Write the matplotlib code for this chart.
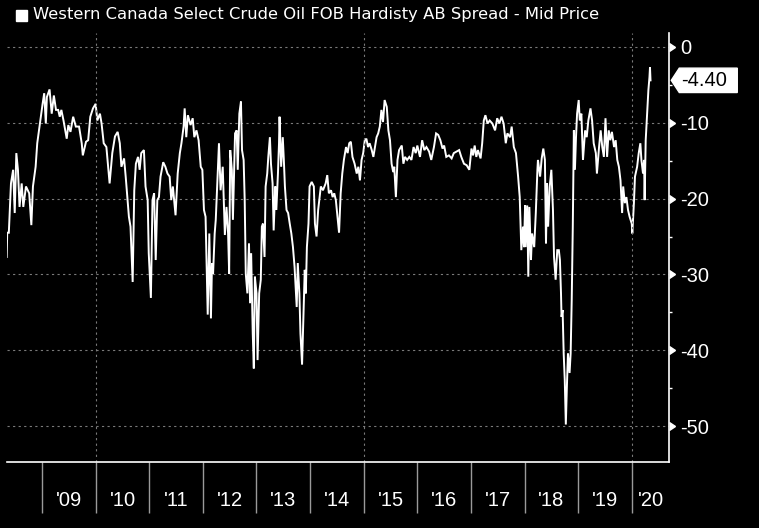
import numpy as np
import matplotlib
matplotlib.use("Agg")
import matplotlib.pyplot as plt
from matplotlib import transforms
from matplotlib.patches import Polygon, Rectangle

title = "Western Canada Select Crude Oil FOB Hardisty AB Spread - Mid Price"

# time in decimal years, spread in USD/bbl
t = [2008.34, 2008.35, 2008.38, 2008.42, 2008.46, 2008.49, 2008.52, 2008.55, 2008.58, 2008.62,
     2008.65, 2008.70, 2008.76, 2008.80, 2008.83, 2008.88, 2008.91, 2008.96, 2009.01, 2009.04,
     2009.07, 2009.09, 2009.14, 2009.18, 2009.22, 2009.26, 2009.30, 2009.33, 2009.36, 2009.40,
     2009.46, 2009.49, 2009.53, 2009.58, 2009.63, 2009.69, 2009.74, 2009.76, 2009.82, 2009.86,
     2009.90, 2009.95, 2010.00, 2010.03, 2010.08, 2010.11, 2010.15, 2010.20, 2010.26, 2010.31,
     2010.36, 2010.41, 2010.45, 2010.48, 2010.53, 2010.56, 2010.59, 2010.62, 2010.65, 2010.69,
     2010.72, 2010.75, 2010.79, 2010.82, 2010.85, 2010.90, 2010.93, 2010.97, 2010.99, 2011.03,
     2011.06, 2011.09, 2011.12, 2011.15, 2011.18, 2011.21, 2011.26, 2011.30, 2011.34, 2011.38,
     2011.41, 2011.44, 2011.49, 2011.53, 2011.57, 2011.60, 2011.64, 2011.66, 2011.69, 2011.72,
     2011.77, 2011.81, 2011.84, 2011.88, 2011.92, 2011.96, 2011.99, 2012.02, 2012.05, 2012.09,
     2012.12, 2012.15, 2012.17, 2012.19, 2012.22, 2012.24, 2012.27, 2012.30, 2012.33, 2012.37,
     2012.39, 2012.41, 2012.44, 2012.47, 2012.49, 2012.51, 2012.54, 2012.56, 2012.60, 2012.63,
     2012.65, 2012.68, 2012.71, 2012.73, 2012.76, 2012.78, 2012.80, 2012.83, 2012.86, 2012.88,
     2012.90, 2012.93, 2012.95, 2012.97, 2013.00, 2013.02, 2013.05, 2013.08, 2013.10, 2013.12,
     2013.15, 2013.17, 2013.20, 2013.22, 2013.25, 2013.27, 2013.30, 2013.32, 2013.35, 2013.37,
     2013.40, 2013.42, 2013.43, 2013.46, 2013.49, 2013.51, 2013.53, 2013.56, 2013.59, 2013.62,
     2013.65, 2013.68, 2013.71, 2013.75, 2013.77, 2013.80, 2013.82, 2013.85, 2013.87, 2013.90,
     2013.92, 2013.94, 2013.97, 2013.99, 2014.03, 2014.07, 2014.09, 2014.12, 2014.15, 2014.20,
     2014.24, 2014.29, 2014.32, 2014.35, 2014.39, 2014.42, 2014.45, 2014.48, 2014.51, 2014.54,
     2014.57, 2014.60, 2014.63, 2014.67, 2014.70, 2014.73, 2014.76, 2014.79, 2014.83, 2014.87,
     2014.90, 2014.93, 2014.96, 2014.99, 2015.02, 2015.05, 2015.08, 2015.11, 2015.15, 2015.18,
     2015.21, 2015.24, 2015.27, 2015.30, 2015.33, 2015.36, 2015.39, 2015.43, 2015.46, 2015.49,
     2015.52, 2015.55, 2015.57, 2015.60, 2015.63, 2015.66, 2015.71, 2015.74, 2015.77, 2015.81,
     2015.85, 2015.89, 2015.93, 2015.97, 2016.00, 2016.05, 2016.09, 2016.13, 2016.17, 2016.22,
     2016.26, 2016.31, 2016.35, 2016.39, 2016.43, 2016.47, 2016.50, 2016.54, 2016.59, 2016.64,
     2016.68, 2016.73, 2016.78, 2016.82, 2016.87, 2016.92, 2016.97, 2017.01, 2017.04, 2017.07,
     2017.10, 2017.13, 2017.18, 2017.21, 2017.24, 2017.27, 2017.31, 2017.35, 2017.40, 2017.45,
     2017.49, 2017.53, 2017.57, 2017.61, 2017.65, 2017.68, 2017.73, 2017.76, 2017.80, 2017.84,
     2017.88, 2017.91, 2017.93, 2017.94, 2017.97, 2017.99, 2018.01, 2018.02, 2018.05, 2018.07,
     2018.09, 2018.12, 2018.14, 2018.18, 2018.21, 2018.24, 2018.25, 2018.29, 2018.32, 2018.35,
     2018.38, 2018.40, 2018.42, 2018.44, 2018.47, 2018.50, 2018.53, 2018.55, 2018.58, 2018.61,
     2018.64, 2018.66, 2018.68, 2018.69, 2018.71, 2018.73, 2018.75, 2018.77, 2018.79, 2018.81,
     2018.84, 2018.86, 2018.88, 2018.90, 2018.92, 2018.94, 2018.96, 2018.98, 2019.01, 2019.03,
     2019.06, 2019.09, 2019.13, 2019.16, 2019.19, 2019.23, 2019.26, 2019.29, 2019.33, 2019.35,
     2019.39, 2019.42, 2019.45, 2019.48, 2019.51, 2019.54, 2019.57, 2019.60, 2019.63, 2019.67,
     2019.70, 2019.73, 2019.76, 2019.79, 2019.82, 2019.84, 2019.87, 2019.90, 2019.93, 2019.96,
     2020.00, 2020.01, 2020.04, 2020.06, 2020.10, 2020.13, 2020.16, 2020.18, 2020.21, 2020.23,
     2020.24, 2020.26, 2020.29, 2020.31, 2020.33, 2020.34, 2020.35]

spread = [-27.7, -24.5, -24.5, -18.0, -16.2, -21.9, -14.0, -16.2, -21.1, -18.0,
          -21.1, -18.4, -19.3, -23.5, -18.4, -15.8, -12.7, -10.1, -7.5, -6.1,
          -10.1, -6.6, -5.6, -8.8, -6.4, -8.3, -8.3, -9.2, -8.3, -9.7,
          -12.1, -10.3, -11.2, -9.2, -10.5, -10.5, -12.7, -14.3, -12.5, -12.3,
          -9.2, -8.1, -7.5, -9.7, -8.8, -10.1, -12.7, -13.2, -18.0, -14.0,
          -11.8, -11.2, -12.7, -15.8, -14.7, -17.1, -19.8, -22.4, -23.7, -31.0,
          -18.9, -15.4, -14.5, -16.2, -14.0, -13.6, -18.4, -20.2, -27.2, -33.1,
          -20.2, -19.3, -28.1, -20.2, -19.8, -17.1, -15.2, -15.8, -16.7, -17.1,
          -20.2, -18.4, -22.2, -16.7, -14.0, -12.7, -10.5, -8.1, -11.9, -9.0,
          -10.3, -9.4, -11.9, -11.0, -12.3, -15.8, -16.2, -21.5, -22.4, -35.3,
          -24.6, -35.8, -28.5, -29.9, -24.6, -22.8, -17.6, -12.7, -18.9, -15.8,
          -20.2, -24.8, -21.1, -24.6, -29.9, -13.6, -16.2, -22.8, -11.4, -11.0,
          -16.2, -8.8, -7.2, -13.6, -14.9, -20.2, -29.9, -32.5, -25.9, -33.8,
          -27.2, -37.8, -42.4, -30.3, -32.5, -41.3, -32.5, -30.7, -23.7, -23.3,
          -27.7, -18.4, -16.7, -14.5, -11.9, -15.4, -18.0, -24.2, -18.4, -21.5,
          -16.7, -12.7, -9.2, -15.8, -11.9, -14.9, -18.4, -21.5, -21.9, -23.3,
          -24.6, -26.4, -29.0, -34.3, -28.5, -32.5, -37.8, -41.9, -36.9, -29.4,
          -32.5, -26.4, -23.3, -18.4, -17.8, -18.4, -23.3, -25.0, -21.5, -18.4,
          -18.9, -18.0, -16.9, -19.3, -18.9, -19.8, -19.3, -20.2, -22.4, -24.5,
          -19.3, -16.7, -14.9, -13.2, -14.0, -12.7, -12.5, -14.5, -15.4, -16.7,
          -15.8, -17.6, -14.9, -14.0, -12.3, -12.1, -13.2, -12.7, -13.6, -14.5,
          -13.2, -11.9, -11.4, -10.5, -8.3, -9.9, -7.0, -7.9, -11.0, -12.3,
          -15.4, -16.5, -15.8, -19.8, -14.9, -13.6, -13.0, -15.4, -14.5, -14.9,
          -14.5, -14.9, -13.2, -14.0, -13.0, -14.5, -12.3, -13.6, -13.2, -13.8,
          -14.9, -13.2, -11.4, -11.6, -12.3, -13.4, -13.0, -14.5, -14.3, -14.7,
          -14.0, -13.8, -13.6, -14.5, -15.4, -15.6, -16.2, -13.4, -14.3, -13.0,
          -14.5, -13.6, -14.7, -12.7, -9.7, -9.0, -10.1, -9.7, -10.1, -11.0,
          -9.4, -10.1, -9.2, -10.1, -12.7, -11.4, -11.9, -10.5, -13.2, -14.0,
          -17.1, -19.8, -24.2, -26.8, -23.7, -26.4, -20.9, -26.4, -20.9, -30.3,
          -21.1, -28.1, -24.6, -26.4, -21.9, -16.2, -14.9, -17.1, -14.7, -13.4,
          -14.9, -25.9, -18.0, -23.7, -18.4, -16.2, -21.5, -27.7, -30.7, -26.8,
          -26.8, -28.1, -32.5, -35.6, -34.7, -40.4, -43.9, -49.8, -44.8, -40.4,
          -43.0, -40.4, -33.4, -23.7, -11.0, -16.2, -11.9, -8.8, -7.0, -9.7,
          -8.8, -14.9, -11.0, -11.9, -9.7, -8.1, -9.7, -12.7, -14.0, -16.7,
          -13.2, -11.0, -13.2, -14.5, -9.4, -14.5, -11.0, -12.3, -11.2, -13.2,
          -12.3, -14.9, -15.8, -17.6, -21.9, -18.4, -20.6, -19.8, -21.5, -22.4,
          -23.3, -24.6, -20.6, -17.1, -15.8, -14.0, -12.7, -14.9, -16.7, -14.9,
          -20.2, -12.3, -8.3, -5.7, -4.0, -2.7, -4.40]

years = list(range(2009, 2021))
year_labels = ["'%02d" % (y % 100) for y in years]
y_ticks = [0, -10, -20, -30, -40, -50]
y_minor = [-5, -15, -25, -35, -45]
grid_years = [2010, 2015, 2020]

x_min, x_max = 2008.34, 2020.70
y_min, y_max = -54.7, 1.8

BG = "black"
FG = "white"
GRID = "#7a7a7a"
FONT = "Liberation Sans"

fig = plt.figure(figsize=(7.59, 5.28), dpi=100, facecolor=BG)
ax = fig.add_axes([0.0088, 0.1256, 0.8730, 0.8113], facecolor=BG)

ax.plot(t, spread, color=FG, lw=1.4, solid_joinstyle="miter")
ax.set_xlim(x_min, x_max)
ax.set_ylim(y_min, y_max)

for s in ["left", "top"]:
    ax.spines[s].set_visible(False)
for s in ["right", "bottom"]:
    ax.spines[s].set_color(FG)
    ax.spines[s].set_linewidth(1.2)

# y axis on the right
ax.yaxis.tick_right()
ax.set_yticks(y_ticks)
ax.set_yticklabels([str(v) for v in y_ticks], fontname=FONT, fontsize=14.5, color=FG)
ax.set_yticks(y_minor, minor=True)
ax.tick_params(axis="y", which="major", length=0, pad=8)
ax.tick_params(axis="y", which="minor", length=2.5, width=1, color=FG)
ax.grid(axis="y", which="major", color=GRID, ls=(0, (2, 3)), lw=0.8)
for g in grid_years:
    ax.axvline(g, color=GRID, ls=(0, (2, 3)), lw=0.8)

blend = transforms.blended_transform_factory(ax.transAxes, ax.transData)
ax.plot([1.0] * len(y_ticks), y_ticks, ls="none", marker=9, ms=6, color=FG,
        transform=blend, clip_on=False)

# x axis: year separators as minor ticks, labels in middle of each year
centers = [(max(y, x_min) + min(y + 1, x_max)) / 2 for y in years]
ax.set_xticks(years, minor=True)
ax.set_xticks(centers)
ax.set_xticklabels(year_labels, fontname=FONT, fontsize=14.5, color=FG)
ax.tick_params(axis="x", which="minor", length=37, width=1, color="#9a9a9a")
ax.tick_params(axis="x", which="major", length=0, pad=21)

# legend
fig.patches.append(Rectangle((16 / 759, 1 - 21 / 528), 11 / 759, 11 / 528,
                             transform=fig.transFigure, color=FG))
fig.text(33 / 759, 1 - 15 / 528, title, color=FG, fontsize=11.8,
         fontname="DejaVu Sans", va="center", ha="left")

# last value tag
last = spread[-1]
px, py = blend.transform((1.0, last))
tag = [(px + 2, py), (px + 10, py + 12.2), (px + 68, py + 12.2),
       (px + 68, py - 12.2), (px + 10, py - 12.2)]
fig.add_artist(Polygon(tag, closed=True, color=FG, zorder=5,
                       transform=transforms.IdentityTransform()))
fig.text(px + 12, py, "%.2f" % last, transform=transforms.IdentityTransform(),
         color="black", fontname=FONT, fontsize=14.5, va="center", ha="left", zorder=6)

fig.savefig("out.png", dpi=100, facecolor=BG)
